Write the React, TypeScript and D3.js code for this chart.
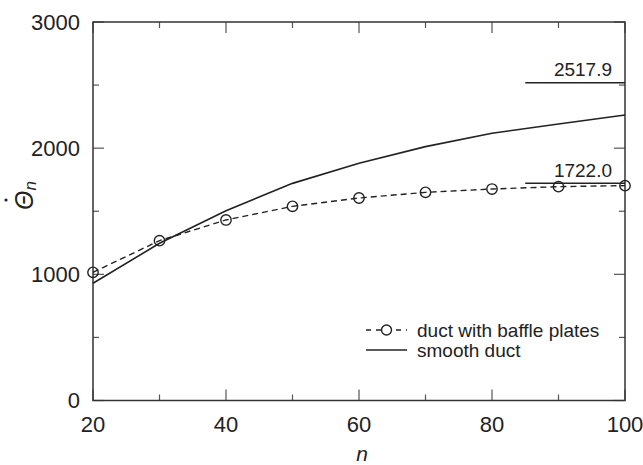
import React from "react";
import * as d3 from "d3";

const nValues = [20, 30, 40, 50, 60, 70, 80, 90, 100];
const baffleValues = [1016, 1267, 1431, 1539, 1605, 1650, 1676, 1695, 1703];
const smoothValues = [929, 1246, 1504, 1721, 1880, 2012, 2118, 2191, 2263];
const xTicks = [20, 40, 60, 80, 100];
const xMinorTicks = [30, 50, 70, 90];
const yTicks = [0, 1000, 2000, 3000];
const yMinorTicks = [500, 1500, 2500];
const limitLabels = ["2517.9", "1722.0"];
const limitValues = [2517.9, 1722.0];
const legendLabels = ["duct with baffle plates", "smooth duct"];

const W = 643;
const H = 465;
const left = 93;
const right = 625;
const top = 22;
const bottom = 400.5;
const font = "'Liberation Sans', Arial, sans-serif";
const ink = "#222";

export default function App() {
  const x = d3.scaleLinear().domain([20, 100]).range([left, right]);
  const y = d3.scaleLinear().domain([0, 3000]).range([bottom, top]);

  const baffle = nValues.map((n, i) => [n, baffleValues[i]] as [number, number]);
  const smooth = nValues.map((n, i) => [n, smoothValues[i]] as [number, number]);
  const line = d3
    .line<[number, number]>()
    .x((d) => x(d[0]))
    .y((d) => y(d[1]));

  const major = 11;
  const minor = 6;

  return (
    <svg
      width={W}
      height={H}
      style={{ position: "absolute", left: 0, top: 0, background: "#fff" }}
      fontFamily={font}
    >
      {/* ticks, inward on all four sides */}
      <g stroke="#555" strokeWidth={1.2}>
        {xTicks.map((t) => (
          <React.Fragment key={"xt" + t}>
            <line x1={x(t)} x2={x(t)} y1={bottom} y2={bottom - major} />
            <line x1={x(t)} x2={x(t)} y1={top} y2={top + major} />
          </React.Fragment>
        ))}
        {xMinorTicks.map((t) => (
          <React.Fragment key={"xm" + t}>
            <line x1={x(t)} x2={x(t)} y1={bottom} y2={bottom - minor} />
            <line x1={x(t)} x2={x(t)} y1={top} y2={top + minor} />
          </React.Fragment>
        ))}
        {yTicks.map((t) => (
          <React.Fragment key={"yt" + t}>
            <line x1={left} x2={left + major} y1={y(t)} y2={y(t)} />
            <line x1={right} x2={right - major} y1={y(t)} y2={y(t)} />
          </React.Fragment>
        ))}
        {yMinorTicks.map((t) => (
          <React.Fragment key={"ym" + t}>
            <line x1={left} x2={left + minor} y1={y(t)} y2={y(t)} />
            <line x1={right} x2={right - minor} y1={y(t)} y2={y(t)} />
          </React.Fragment>
        ))}
      </g>

      {/* frame */}
      <rect
        x={left}
        y={top}
        width={right - left}
        height={bottom - top}
        fill="none"
        stroke="#333"
        strokeWidth={1.5}
      />

      {/* tick labels */}
      <g fontSize={22} fill="#222">
        {xTicks.map((t) => (
          <text key={"xl" + t} x={x(t)} y={431.5} textAnchor="middle">
            {t}
          </text>
        ))}
        {yTicks.map((t) => (
          <text key={"yl" + t} x={80} y={y(t)} dy="0.36em" textAnchor="end">
            {t}
          </text>
        ))}
      </g>

      {/* axis titles */}
      <text x={362} y={461} fontSize={21} fontStyle="italic" textAnchor="middle" fill="#222">
        n
      </text>
      <g transform="translate(33,210) rotate(-90)" fill="#222">
        <text x={0} y={0} fontSize={25} fontStyle="italic">
          Θ
          <tspan fontSize={17} dy={3}>
            n
          </tspan>
        </text>
        <circle cx={10} cy={-27} r={1.6} />
      </g>

      {/* asymptote markers */}
      {limitValues.map((v, i) => (
        <g key={"lim" + i}>
          <line x1={x(85)} x2={right} y1={y(v)} y2={y(v)} stroke={ink} strokeWidth={1.4} />
          <text x={612} y={y(v) - 6.5} fontSize={19} textAnchor="end" fill="#222">
            {limitLabels[i]}
          </text>
        </g>
      ))}

      {/* data */}
      <path d={line(smooth) || undefined} fill="none" stroke={ink} strokeWidth={1.6} />
      <path
        d={line(baffle) || undefined}
        fill="none"
        stroke={ink}
        strokeWidth={1.4}
        strokeDasharray="6,4"
      />
      {baffle.map((d, i) => (
        <circle
          key={"c" + i}
          cx={x(d[0])}
          cy={y(d[1])}
          r={5.2}
          fill="none"
          stroke={ink}
          strokeWidth={1.4}
        />
      ))}

      {/* legend */}
      <g>
        <line x1={366} x2={407} y1={330} y2={330} stroke={ink} strokeWidth={1.4} strokeDasharray="5,5" />
        <circle cx={386.5} cy={330} r={5} fill="#fff" stroke={ink} strokeWidth={1.4} />
        <line x1={366} x2={407} y1={350} y2={350} stroke={ink} strokeWidth={1.6} />
        <text x={417} y={336.5} fontSize={19} fill="#222">
          {legendLabels[0]}
        </text>
        <text x={417} y={356.5} fontSize={19} fill="#222">
          {legendLabels[1]}
        </text>
      </g>
    </svg>
  );
}
